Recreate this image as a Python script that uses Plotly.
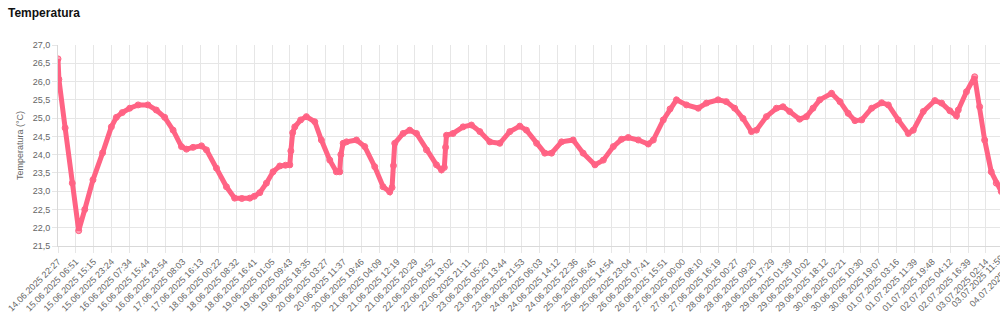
import plotly.graph_objects as go

# Tick labels of the category axis (every shown label, one per tick)
tick_labels = [
    "14.06.2025 22:27", "15.06.2025 06:51", "15.06.2025 15:15", "15.06.2025 23:24",
    "16.06.2025 07:34", "16.06.2025 15:44", "16.06.2025 23:54", "17.06.2025 08:03",
    "17.06.2025 16:13", "18.06.2025 00:22", "18.06.2025 08:32", "18.06.2025 16:41",
    "19.06.2025 01:05", "19.06.2025 09:43", "19.06.2025 18:35", "20.06.2025 03:27",
    "20.06.2025 11:37", "20.06.2025 19:46", "21.06.2025 04:09", "21.06.2025 12:19",
    "21.06.2025 20:29", "22.06.2025 04:52", "22.06.2025 13:02", "22.06.2025 21:11",
    "23.06.2025 05:20", "23.06.2025 13:44", "23.06.2025 21:53", "24.06.2025 06:03",
    "24.06.2025 14:12", "24.06.2025 22:36", "25.06.2025 06:45", "25.06.2025 14:54",
    "25.06.2025 23:04", "26.06.2025 07:41", "26.06.2025 15:51", "27.06.2025 00:00",
    "27.06.2025 08:10", "27.06.2025 16:19", "28.06.2025 00:27", "28.06.2025 09:20",
    "28.06.2025 17:29", "29.06.2025 01:39", "29.06.2025 10:02", "29.06.2025 18:12",
    "30.06.2025 02:21", "30.06.2025 10:30", "30.06.2025 19:07", "01.07.2025 03:16",
    "01.07.2025 11:39", "01.07.2025 19:48", "02.07.2025 04:12", "02.07.2025 16:39",
    "03.07.2025 02:14", "03.07.2025 11:59", "04.07.2025 00:00",
]

# Position of each reading along the category axis (in label-steps)
sample_pos = [
    0.00, 0.05, 0.40, 0.80, 1.16, 1.50, 1.96, 2.50, 2.99, 3.27, 3.60, 4.02, 4.49,
    5.04, 5.51, 5.98, 6.45, 6.92, 7.20, 7.57, 8.04, 8.32, 8.88, 9.44, 9.90, 10.30,
    10.75, 11.00, 11.31, 11.68, 12.05, 12.43, 12.75, 12.99, 13.05, 13.15, 13.27,
    13.60, 13.92, 14.39, 14.76, 15.23, 15.60, 15.79, 15.85, 15.98, 16.17, 16.73,
    17.19, 17.75, 18.22, 18.59, 18.72, 18.80, 18.87, 19.34, 19.71, 20.09, 20.65,
    21.21, 21.49, 21.65, 21.72, 21.77, 22.14, 22.70, 23.17, 23.64, 24.20, 24.76,
    25.32, 25.88, 26.25, 26.82, 27.28, 27.66, 28.22, 28.87, 29.43, 30.09, 30.56,
    31.12, 31.58, 31.96, 32.52, 33.08, 33.36, 33.92, 34.30, 34.66, 35.22, 35.88,
    36.34, 36.99, 37.45, 37.92, 38.39, 38.86, 39.14, 39.70, 40.26, 40.63, 41.00,
    41.56, 41.94, 42.31, 42.69, 43.35, 43.82, 44.28, 44.66, 45.04, 45.60, 46.16,
    46.53, 47.09, 47.65, 47.93, 48.49, 49.14, 49.52, 49.98, 50.35, 50.45, 50.91,
    51.37, 51.65, 51.93, 52.30, 52.58, 52.86, 53.20,
]

temps = [
    26.62, 26.06, 24.73, 23.22, 21.92, 22.50, 23.31, 24.05, 24.76, 25.02, 25.15, 25.27, 25.36,
    25.36, 25.22, 25.02, 24.67, 24.22, 24.15, 24.20, 24.24, 24.13, 23.63, 23.12, 22.81, 22.80,
    22.81, 22.86, 22.96, 23.22, 23.53, 23.69, 23.71, 23.72, 24.10, 24.60, 24.76,
    24.95, 25.04, 24.90, 24.40, 23.85, 23.53, 23.53, 24.00, 24.31, 24.35, 24.40,
    24.22, 23.67, 23.12, 22.98, 23.10, 23.70, 24.31, 24.58, 24.67, 24.58, 24.13,
    23.72, 23.58, 23.65, 24.20, 24.53, 24.58, 24.76, 24.81, 24.63, 24.35, 24.31,
    24.63, 24.78, 24.67, 24.31, 24.04, 24.04, 24.35, 24.40, 24.04, 23.72, 23.85,
    24.22, 24.42, 24.47, 24.40, 24.29, 24.40, 24.95, 25.25, 25.50, 25.36, 25.27,
    25.41, 25.50, 25.45, 25.27, 24.99, 24.63, 24.67, 25.04, 25.27, 25.31, 25.18,
    24.97, 25.04, 25.27, 25.50, 25.68, 25.45, 25.13, 24.93, 24.95, 25.27, 25.42,
    25.36, 24.95, 24.58, 24.67, 25.18, 25.48, 25.41, 25.20, 25.06, 25.22, 25.72,
    26.13, 25.31, 24.40, 23.53, 23.22, 22.99, 22.80,
]

y_ticks = [21.5, 22.0, 22.5, 23.0, 23.5, 24.0, 24.5, 25.0, 25.5, 26.0, 26.5, 27.0]

X_RANGE_END = 52.79  # the chart continues beyond the visible window

PINK = "rgb(255,99,132)"
GRID = "#e6e6e6"
TXT = "#666666"

fig = go.Figure()
fig.add_trace(go.Scatter(
    x=sample_pos, y=temps, mode="lines+markers",
    line=dict(color=PINK, width=5),
    marker=dict(size=6, color="rgba(255,99,132,0.6)", line=dict(color=PINK, width=1)),
    showlegend=False, cliponaxis=True,
))

# Labels of ticks that lie past the visible window edge (partially visible, clipped)
for i, lab in enumerate(tick_labels):
    if i > X_RANGE_END:
        fig.add_annotation(
            x=i / X_RANGE_END, xref="paper", y=0, yref="paper", text=lab, showarrow=False,
            textangle=-45, xanchor="center", yanchor="middle",
            xshift=-26, yshift=-35, font=dict(size=9, color=TXT),
        )

fig.update_layout(
    width=1000, height=329,
    margin=dict(l=58, r=0, t=45, b=83),
    paper_bgcolor="white", plot_bgcolor="white",
    separators=",.",
    font=dict(family="Liberation Sans, Arial, sans-serif", color=TXT),
    title=dict(text="<b>Temperatura</b>", x=0.008, xref="container", xanchor="left",
               y=0.975, yref="container", yanchor="top",
               font=dict(size=12, color="#111111", family="Liberation Sans, Arial, sans-serif")),
)
fig.update_xaxes(
    range=[0, X_RANGE_END], tickmode="array",
    tickvals=list(range(len(tick_labels))), ticktext=tick_labels,
    tickangle=-45, tickfont=dict(size=9, color=TXT),
    showgrid=True, gridcolor=GRID, gridwidth=1,
    ticks="outside", ticklen=6, tickcolor=GRID,
    showline=True, linecolor="#d9d9d9", linewidth=1,
    zeroline=False, fixedrange=True,
)
fig.update_yaxes(
    range=[21.5, 27.0], tickmode="array", tickvals=y_ticks,
    tickformat=".1f", tickfont=dict(size=9, color=TXT),
    showgrid=True, gridcolor=GRID, gridwidth=1,
    ticks="outside", ticklen=5, tickcolor=GRID,
    showline=True, linecolor="#d9d9d9", linewidth=1,
    zeroline=False, fixedrange=True,
    title=dict(text="Temperatura (°C)", font=dict(size=9, color=TXT), standoff=7),
)

fig.write_html("out.html", config={"displayModeBar": False})
